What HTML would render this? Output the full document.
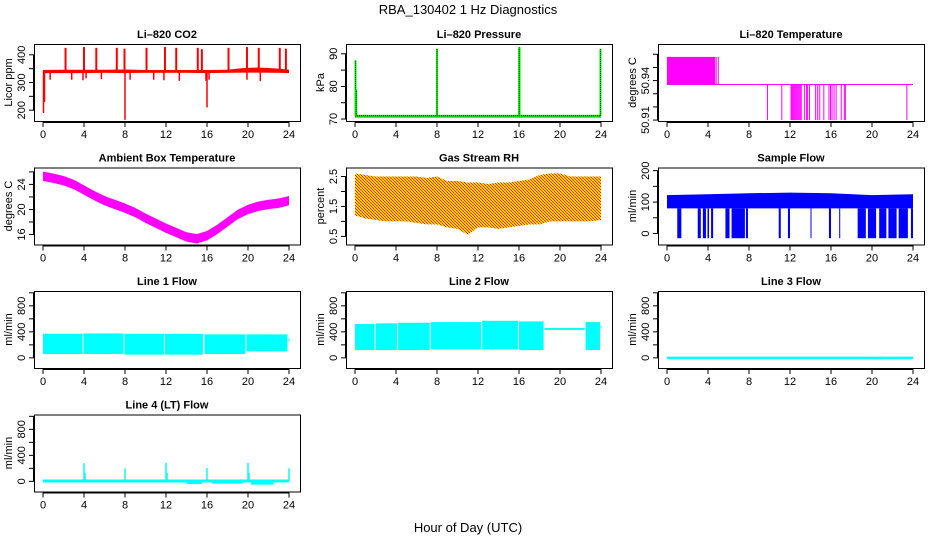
<!DOCTYPE html>
<html><head><meta charset="utf-8"><style>
html,body{margin:0;padding:0;background:#fff;}
svg{display:block;font-family:"Liberation Sans",Arial,sans-serif;}
</style></head><body>
<svg id="chart" width="936" height="540" viewBox="0 0 936 540" xmlns="http://www.w3.org/2000/svg">
<defs>
<pattern id="rhpat" width="3" height="3" patternUnits="userSpaceOnUse">
<rect width="3" height="3" fill="#ffd800"/><rect width="1" height="1" fill="#ff2000"/><rect x="1" y="1" width="1" height="1" fill="#ff2000"/><rect x="2" y="2" width="1" height="1" fill="#ff2000"/>
</pattern>
</defs>
<text x="468" y="14" font-size="13" text-anchor="middle">RBA_130402  1 Hz Diagnostics</text>
<text x="468" y="532" font-size="13" text-anchor="middle">Hour of Day (UTC)</text>
</svg>
<script>
// ---- data ----
const xTicks = [0,4,8,12,16,20,24];
// CO2
const co2BandHours = [0,2,4,6,8,10,12,14,16,18,19.5,21,23,24];
const co2BandLo = [334,334,334,335,334,335,335,335,334,335,336,336,335,334];
const co2BandHi = [345,346,346,346,347,345,345,345,345,346,352,354,350,346];
const co2Base = 340;
const co2SpikeHours = [2.2,4,5.2,7.2,7.95,10.1,11.9,13,15.1,15.5,18.1,19.9,21.05,23.1,23.7];
const co2SpikeVals = [425,428,425,425,422,425,428,425,425,420,425,428,425,425,422];
const co2DipHours = [0.05,0.15,8,16];
const co2DipVals = [190,230,165,210];
const co2SmallHours = [0.7,2.8,3.9,4.2,5.7,8.5,10.8,11.8,13.3,15.9,16.2,19.9,21.2];
const co2SmallVals = [310,310,308,315,312,310,310,308,306,306,310,310,305];
// Pressure
const presBase = 71;
const presSpikeHours = [0.05,0.12,8,16,16.05,23.95];
const presSpikeVals = [88,79,91.5,92,92,91.5];
// Li-820 temperature
const liHigh = 50.958, liMid = 50.937, liLow = 50.91;
const liHighEnd = 4.7;
const liHighLines = [4.8,5.0];
const liDrops = [9.8,11.2,12.1,12.2,12.3,12.4,12.5,12.6,12.7,12.8,12.9,13.0,13.1,13.4,13.6,13.7,13.9,14.5,14.7,14.9,15.3,15.8,15.95,16.1,16.3,16.5,17.0,17.3,17.4,23.4];
// Ambient box temperature
const ambHours = [0,1,2,3,4,5,6,7,8,9,10,11,12,13,14,15,16,17,18,19,20,21,22,23,24];
const ambTemp = [25.3,25.0,24.6,24.0,23.1,22.2,21.4,20.8,20.2,19.5,18.6,17.8,17.0,16.3,15.6,15.3,15.8,16.8,18.0,19.2,20.0,20.5,20.8,21.0,21.4];
// Gas stream RH
const rhHours = [0,1,2,3,4,5,6,7,8,9,10,11,12,13,14,15,16,17,18,19,20,21,22,23,24];
const rhHi = [2.6,2.55,2.5,2.5,2.5,2.5,2.5,2.45,2.5,2.35,2.35,2.3,2.3,2.25,2.3,2.3,2.35,2.4,2.55,2.6,2.6,2.5,2.5,2.5,2.5];
const rhLo = [1.2,1.1,1.05,1.0,1.0,1.0,0.95,0.9,0.9,0.8,0.75,0.55,0.8,0.8,0.75,0.8,0.85,0.9,0.9,1.0,1.0,1.0,1.0,1.0,1.05];
// Sample flow
const sfHours = [0,4,8,12,16,20,24];
const sfLo = [80,80,80,80,80,80,80];
const sfHi = [122,125,128,130,128,122,125];
const sfDropStart = [1.0,3.0,3.5,3.95,4.3,5.7,6.3,7.7,10.9,11.8,14.0,15.8,16.8,18.6,19.6,20.7,21.6,22.6,23.8];
const sfDropEnd   = [1.4,3.3,3.8,4.1,4.5,6.1,7.6,7.9,11.1,12.0,14.05,16.0,16.9,19.4,20.4,21.4,22.4,23.5,24.0];
// Line 1 flow
const l1Start = [0,3.95,7.95,11.9,15.75,19.85,23.95];
const l1End = [3.85,7.85,11.8,15.6,19.75,23.85,24.05];
const l1Lo = [60,60,50,50,60,100,250];
const l1Hi = [370,375,370,370,360,360,300];
// Line 2 flow
const l2Start = [0,2.0,4.2,7.4,12.4,16.0,18.5,22.5,23.95];
const l2End = [1.9,4.1,7.3,12.3,15.9,18.4,22.4,23.9,24.05];
const l2Lo = [120,120,120,130,130,120,430,120,450];
const l2Hi = [520,530,540,550,570,560,460,550,500];
// Line 3 flow
const l3Base = 0;
const l3DipHours = [20.2,20.5,20.9];
const l3DipVals = [-25,-25,-25];
// Line 4 flow
const l4Base = 5;
const l4SpikeHours = [4,4.1,8,12,12.1,16,20,20.1,24];
const l4SpikeVals = [280,130,200,285,130,205,285,130,200];
const l4NoiseStart = [14,16.5,20.3];
const l4NoiseEnd = [15.5,19.5,22.5];
const l4NoiseLo = [-40,-35,-50];

// ---- layout ----
const svg = document.getElementById('chart');
const NS = 'http://www.w3.org/2000/svg';
const colLeft = [34,346,658], rowTop = [44,167.5,291,414.5], W = 266, H = 77;
function mk(tag, attrs, parent){ const e = document.createElementNS(NS, tag); for (const k in attrs) e.setAttribute(k, attrs[k]); (parent||svg).appendChild(e); return e; }

function panel(name, title, ylab, col, row, ymin, ymax, yTicks, yLabels){
  const L = colLeft[col], T = rowTop[row];
  const g = mk('g', {});
  
  
  const X = h => L + 9 + h * 10.25;
  const Y = v => T + H - (v - ymin) / (ymax - ymin) * H;
  const t = mk('text', {x: L + W/2, y: T - 6, 'font-size': 11, 'font-weight': 'bold', 'text-anchor': 'middle'}, g);
  t.textContent = title;
  
  
  const marks = mk('g', {}, g);
  
  
  const ax = mk('g', {stroke: '#000', 'stroke-width': 1, fill: 'none'}, g);
  
  
  mk('rect', {x: L + .5, y: T + .5, width: W, height: H}, ax);
  mk('line', {x1: X(0), x2: X(24), y1: T + H + 1.5, y2: T + H + 1.5}, ax);
  xTicks.forEach(v => {
    mk('line', {x1: X(v), x2: X(v), y1: T + H + 1, y2: T + H + 6}, ax);
    const tx = mk('text', {x: X(v), y: T + H + 17, 'font-size': 11, 'text-anchor': 'middle', fill: '#000', stroke: 'none'}, g);
    tx.textContent = v;
    
    
  });
  mk('line', {x1: L - 0.5, x2: L - 0.5, y1: Y(yTicks[0]), y2: Y(yTicks[yTicks.length-1])}, ax);
  yTicks.forEach(v => mk('line', {x1: L - 5, x2: L, y1: Y(v), y2: Y(v)}, ax));
  yLabels.forEach(v => {
    const yy = Y(v);
    const tx = mk('text', {x: L - 9, y: yy, 'font-size': 11, 'text-anchor': 'middle', transform: `rotate(-90 ${L - 9} ${yy})`}, g);
    tx.textContent = v;
    
    
  });
  const yl = mk('text', {x: L - 22, y: T + H/2, 'font-size': 11, 'text-anchor': 'middle', transform: `rotate(-90 ${L - 22} ${T + H/2})`}, g);
  yl.textContent = ylab;
  
  
  return {X, Y, g: marks};
}
function vline(p, h, v1, v2, color, w){ return mk('line', {x1: p.X(h), x2: p.X(h), y1: p.Y(v1), y2: p.Y(v2), stroke: color, 'stroke-width': w || 1}, p.g); }
function band(p, hs, lo, hi, fill){
  let pts = hs.map((h,i) => p.X(h) + ',' + p.Y(hi[i]));
  for (let i = hs.length - 1; i >= 0; i--) pts.push(p.X(hs[i]) + ',' + p.Y(lo[i]));
  return mk('polygon', {points: pts.join(' '), fill: fill}, p.g);
}
function drect(p, h1, h2, v1, v2, fill){
  return mk('rect', {x: p.X(h1), y: p.Y(v2), width: Math.max(1, p.X(h2) - p.X(h1)), height: p.Y(v1) - p.Y(v2), fill: fill}, p.g);
}

// 1 CO2
let p = panel('co2', 'Li\u2013820 CO2', 'Licor ppm', 0, 0, 161, 439, [200,250,300,350,400], [200,300,400]);
band(p, co2BandHours, co2BandLo, co2BandHi, '#ff0000');
mk('line', {x1: p.X(0), x2: p.X(24), y1: p.Y(co2Base), y2: p.Y(co2Base), stroke: '#ff0000', 'stroke-width': 2.5}, p.g);
co2SpikeHours.forEach((h,i) => vline(p, h, co2Base, co2SpikeVals[i], '#ff0000', 2));
co2DipHours.forEach((h,i) => vline(p, h, co2Base, co2DipVals[i], '#ff0000', 1.5));
co2SmallHours.forEach((h,i) => vline(p, h, co2Base, co2SmallVals[i], '#ff0000', 1.5));

// 2 Pressure
p = panel('pressure', 'Li\u2013820 Pressure', 'kPa', 1, 0, 69.4, 93, [70,75,80,85,90], [70,80,90]);
drect(p, 0, 24, presBase - 0.6, presBase + 0.3, '#00ee00');
mk('line', {x1: p.X(0), x2: p.X(24), y1: p.Y(presBase), y2: p.Y(presBase), stroke: '#000', 'stroke-width': 1, 'stroke-dasharray': '1,1'}, p.g);
presSpikeHours.forEach((h,i) => { vline(p, h, presBase, presSpikeVals[i], '#00ee00', 2); vline(p, h, presBase, presSpikeVals[i], '#000', 0.6).setAttribute('stroke-dasharray','1,1'); });

// 3 Li-820 temperature
p = panel('li820-temp', 'Li\u2013820 Temperature', 'degrees C', 2, 0, 50.9093, 50.9678, [50.91,50.92,50.93,50.94,50.95,50.96], ['50.91','50.94']);
drect(p, 0, liHighEnd, liMid, liHigh, '#ff00ff');
liHighLines.forEach(h => vline(p, h, liMid, liHigh, '#ff00ff', 1));
mk('line', {x1: p.X(0), x2: p.X(24), y1: p.Y(liMid), y2: p.Y(liMid), stroke: '#ff00ff', 'stroke-width': 1}, p.g);
liDrops.forEach(h => vline(p, h, liMid, liLow, '#ff00ff', 1));

// 4 Ambient
p = panel('ambient-temp', 'Ambient Box Temperature', 'degrees C', 0, 1, 14.4, 26.7, [16,18,20,22,24,26], [16,20,24]);
band(p, ambHours, ambTemp.map(v => v - 0.75), ambTemp.map(v => v + 0.75), '#ff00ff');

// 5 RH
p = panel('gas-rh', 'Gas Stream RH', 'percent', 1, 1, 0.23, 2.8, [0.5,1,1.5,2,2.5], ['0.5','1.5','2.5']);
band(p, rhHours, rhLo, rhHi, 'url(#rhpat)');

// 6 Sample flow
p = panel('sample-flow', 'Sample Flow', 'ml/min', 2, 1, -35, 210, [0,50,100,150,200], [0,100,200]);
band(p, sfHours, sfLo, sfHi, '#0000ff');
sfDropStart.forEach((s,i) => drect(p, s, sfDropEnd[i], -15, 80, '#0000ff'));

// 7 Line 1
p = panel('line1-flow', 'Line 1 Flow', 'ml/min', 0, 2, -156, 1028, [0,200,400,600,800,1000], [0,400,800]);
l1Start.forEach((s,i) => drect(p, s, l1End[i], l1Lo[i], l1Hi[i], '#00ffff'));

// 8 Line 2
p = panel('line2-flow', 'Line 2 Flow', 'ml/min', 1, 2, -156, 1028, [0,200,400,600,800,1000], [0,400,800]);
l2Start.forEach((s,i) => drect(p, s, l2End[i], l2Lo[i], l2Hi[i], '#00ffff'));

// 9 Line 3
p = panel('line3-flow', 'Line 3 Flow', 'ml/min', 2, 2, -156, 1028, [0,200,400,600,800,1000], [0,400,800]);
mk('line', {x1: p.X(0), x2: p.X(24), y1: p.Y(l3Base), y2: p.Y(l3Base), stroke: '#00ffff', 'stroke-width': 2.5}, p.g);
l3DipHours.forEach((h,i) => vline(p, h, l3Base, l3DipVals[i], '#00ffff', 1));

// 10 Line 4
p = panel('line4-flow', 'Line 4 (LT) Flow', 'ml/min', 0, 3, -156, 1028, [0,200,400,600,800,1000], [0,400,800]);
l4NoiseStart.forEach((s,i) => drect(p, s, l4NoiseEnd[i], l4NoiseLo[i], 0, '#00ffff'));
mk('line', {x1: p.X(0), x2: p.X(24), y1: p.Y(l4Base), y2: p.Y(l4Base), stroke: '#00ffff', 'stroke-width': 3}, p.g);
l4SpikeHours.forEach((h,i) => vline(p, h, l4Base, l4SpikeVals[i], '#00ffff', 1.5));
</script>
</body></html>
